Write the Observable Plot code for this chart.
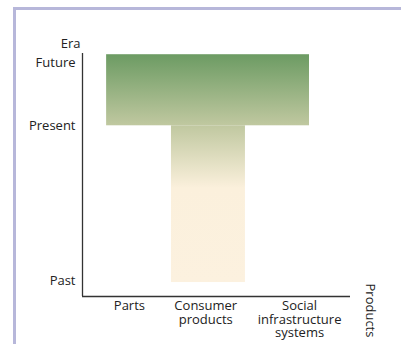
<!DOCTYPE html>
<html>
<head>
<meta charset="utf-8">
<script src="https://cdn.jsdelivr.net/npm/d3@7"></script>
<script src="https://cdn.jsdelivr.net/npm/@observablehq/plot@0.6"></script>
<style>
  html, body { margin: 0; padding: 0; background: #fff; }
  #frame { position: absolute; left: 13px; top: 7px; width: 388px; height: 337px;
           border-left: 3px solid #b7b7da; border-top: 3px solid #b7b7da; box-sizing: border-box; }
  #chart { position: absolute; left: 0; top: 0; }
  svg { font-family: "Open Sans", sans-serif; }
</style>
</head>
<body>
<div id="frame"></div>
<div id="chart"></div>
<script>
// Categories on the x axis and their positions (0..1 scale)
const categories = ["Parts", "Consumer\nproducts", "Social\ninfrastructure\nsystems"];
const categoryPos = [0.175, 0.46, 0.81];

// Eras on the y axis and their positions (0..4 scale)
const eras = ["Past", "Present", "Future"];
const eraPos = [0.25, 2.81, 3.85];

// The T shape: top bar (present → future across all products), stem (past → present, consumer products)
const shapeNames = ["top", "stem"];
const shapeX1 = [0.09, 0.332];
const shapeX2 = [0.847, 0.608];
const shapeY1 = [2.81, 0.23];
const shapeY2 = [3.98, 2.81];

const shapes = shapeNames.map((n, i) => ({
  name: n, x1: shapeX1[i], x2: shapeX2[i], y1: shapeY1[i], y2: shapeY2[i]
}));

const defs = () => {
  const d = d3.create("svg:defs");
  const g1 = d.append("linearGradient").attr("id", "gradTop")
    .attr("x1", 0).attr("y1", 0).attr("x2", 0).attr("y2", 1);
  g1.append("stop").attr("offset", "0%").attr("stop-color", "#6c9b63");
  g1.append("stop").attr("offset", "100%").attr("stop-color", "#c0c8a0");
  const g2 = d.append("linearGradient").attr("id", "gradStem")
    .attr("x1", 0).attr("y1", 0).attr("x2", 0).attr("y2", 1);
  g2.append("stop").attr("offset", "0%").attr("stop-color", "#c0c8a0");
  g2.append("stop").attr("offset", "40%").attr("stop-color", "#fbf0dc");
  g2.append("stop").attr("offset", "100%").attr("stop-color", "#fcf1df");
  return d.node();
};

const FS = 13;

const chart = Plot.plot({
  width: 401,
  height: 344,
  marginLeft: 82,
  marginRight: 51,
  marginTop: 53,
  marginBottom: 48,
  style: { fontSize: FS + "px", fontFamily: "Open Sans, sans-serif", color: "#222" },
  x: { domain: [0, 1], axis: null },
  y: { domain: [0, 4], axis: null },
  marks: [
    defs,
    Plot.rect(shapes.filter(d => d.name === "top"), { x1: "x1", x2: "x2", y1: "y1", y2: "y2", fill: "url(#gradTop)" }),
    Plot.rect(shapes.filter(d => d.name === "stem"), { x1: "x1", x2: "x2", y1: "y1", y2: "y2", fill: "url(#gradStem)" }),
    Plot.axisY(eraPos, { tickSize: 0, tickPadding: 7, tickFormat: (d, i) => eras[i], fontSize: FS, label: null }),
    Plot.axisX(categoryPos, { tickSize: 0, tickPadding: 4, tickFormat: (d, i) => categories[i], fontSize: FS, lineHeight: 1.04, label: null }),
    Plot.ruleX([0], { stroke: "#333", strokeWidth: 1.3 }),
    Plot.ruleY([0], { stroke: "#333", strokeWidth: 1.3 }),
    Plot.text(["Era"], { frameAnchor: "top-left", textAnchor: "end", dx: -2, dy: -15, fontSize: FS, fill: "#222" }),
    Plot.text(["Products"], { frameAnchor: "bottom-right", textAnchor: "start", rotate: 90, dx: 15, dy: -13, fontSize: FS, fill: "#222" })
  ]
});
chart.style.background = "transparent";
document.getElementById("chart").appendChild(chart);
</script>
</body>
</html>
